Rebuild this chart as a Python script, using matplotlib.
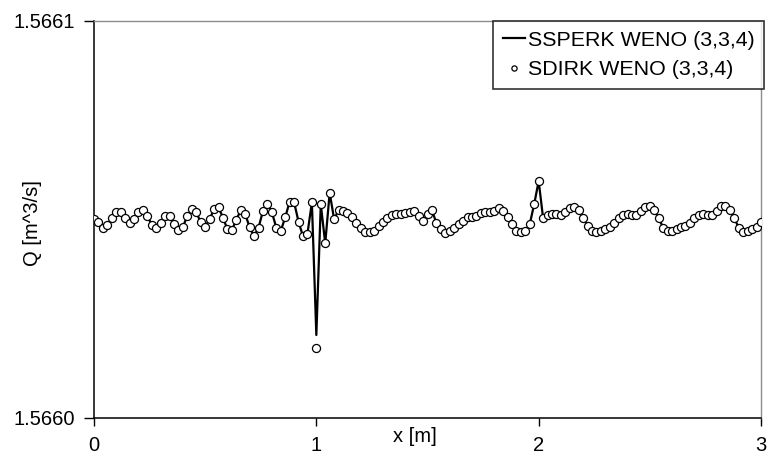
import numpy as np
import matplotlib
matplotlib.use('Agg')
import matplotlib.pyplot as plt

plt.rcParams['font.family'] = ['Liberation Sans', 'DejaVu Sans']

# Discharge along the channel, x = 0 .. 3 m in steps of 0.02 m
x = np.round(np.arange(151) * 0.02, 2)

q_sdirk = [
    1.56605000, 1.56604932, 1.56604781, 1.56604849, 1.56605018, 1.56605169, 1.56605169, 1.56605018,
    1.56604892, 1.56604993, 1.56605169, 1.56605227, 1.56605083, 1.56604849, 1.56604781, 1.56604907,
    1.56605083, 1.56605083, 1.56604867, 1.56604723, 1.56604806, 1.56605083, 1.56605252, 1.56605169,
    1.56604917, 1.56604806, 1.56604993, 1.56605252, 1.56605295, 1.56605033, 1.56604741, 1.56604723,
    1.56604975, 1.56605227, 1.56605126, 1.56604791, 1.56604572, 1.56604781, 1.56605202, 1.56605378,
    1.56605169, 1.56604781, 1.56604698, 1.56605043, 1.56605436, 1.56605421, 1.56604932, 1.56604564,
    1.56604630, 1.56605416, 1.56601758, 1.56605370, 1.56604388, 1.56605663, 1.56604993, 1.56605227,
    1.56605209, 1.56605159, 1.56605043, 1.56604907, 1.56604766, 1.56604665, 1.56604665, 1.56604705,
    1.56604824, 1.56604932, 1.56605033, 1.56605101, 1.56605126, 1.56605126, 1.56605159, 1.56605184,
    1.56605209, 1.56605083, 1.56604957, 1.56605119, 1.56605227, 1.56604892, 1.56604741, 1.56604640,
    1.56604705, 1.56604766, 1.56604867, 1.56604957, 1.56605058, 1.56605058, 1.56605076, 1.56605159,
    1.56605184, 1.56605184, 1.56605209, 1.56605270, 1.56605209, 1.56605043, 1.56604874, 1.56604705,
    1.56604680, 1.56604698, 1.56604874, 1.56605378, 1.56605957, 1.56605018, 1.56605101, 1.56605119,
    1.56605119, 1.56605101, 1.56605169, 1.56605270, 1.56605310, 1.56605227, 1.56605033, 1.56604831,
    1.56604698, 1.56604680, 1.56604705, 1.56604748, 1.56604806, 1.56604892, 1.56605018, 1.56605101,
    1.56605119, 1.56605101, 1.56605101, 1.56605202, 1.56605310, 1.56605328, 1.56605227, 1.56605018,
    1.56604781, 1.56604698, 1.56604698, 1.56604748, 1.56604791, 1.56604831, 1.56604907, 1.56605018,
    1.56605101, 1.56605119, 1.56605101, 1.56605101, 1.56605202, 1.56605328, 1.56605335, 1.56605227,
    1.56605018, 1.56604781, 1.56604680, 1.56604698, 1.56604748, 1.56604806, 1.56604917,
]

# explicit scheme agrees with the implicit one except at the jump at x = 1
q_ssperk = list(q_sdirk)
q_ssperk[50] = 1.56602078

x_ticks = [0, 1, 2, 3]
y_ticks = [1.5660, 1.5661]
y_tick_labels = ['1.5660', '1.5661']

fig = plt.figure(figsize=(7.72, 4.55), dpi=100)
ax = fig.add_axes([94 / 772, 1 - 417.5 / 455, (761 - 94) / 772, 397 / 455])

ax.plot(x, q_ssperk, color='black', lw=1.6, label='SSPERK WENO (3,3,4)', zorder=2)
ax.plot(x, q_sdirk, ls='none', marker='o', ms=5.8, mfc='white', mec='black', mew=0.9,
        label='SDIRK WENO (3,3,4)', zorder=3)

ax.set_xlim(0, 3)
ax.set_ylim(1.5660, 1.5661)
ax.set_xticks(x_ticks)
ax.set_xticklabels([str(t) for t in x_ticks])
ax.set_yticks(y_ticks)
ax.set_yticklabels(y_tick_labels)
ax.tick_params(axis='both', direction='out', length=6, width=1, color='black',
               labelsize=14.5)
ax.tick_params(axis='y', pad=7, length=7)
ax.tick_params(axis='x', pad=7)

for side in ['left', 'bottom']:
    ax.spines[side].set_color('black')
    ax.spines[side].set_linewidth(1.1)
for side in ['top', 'right']:
    ax.spines[side].set_color('#8c8c8c')
    ax.spines[side].set_linewidth(1.0)

fig.text(415 / 772, 1 - 437 / 455, 'x [m]', ha='center', va='center', fontsize=14.5)
fig.text(32 / 772, 1 - 223 / 455, 'Q [m^3/s]', ha='center', va='center',
         rotation=90, fontsize=14.5)

leg = ax.legend(loc='upper right', bbox_to_anchor=(764 / 772, 1 - 21 / 455),
                bbox_transform=fig.transFigure, fontsize=15.4, frameon=True,
                fancybox=False, edgecolor='black', handlelength=1.05, handletextpad=0.1,
                borderpad=0.45, labelspacing=0.5, borderaxespad=0, markerscale=0.65)
leg.get_frame().set_linewidth(1.2)

fig.savefig('out.png', dpi=100)
